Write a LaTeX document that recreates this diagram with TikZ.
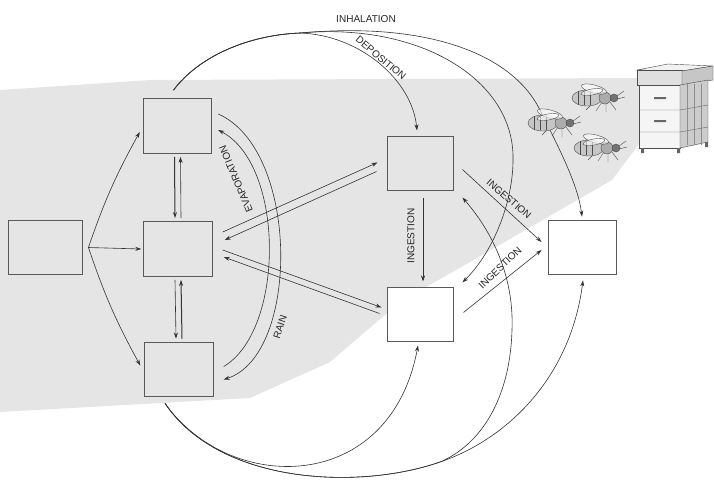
\documentclass[tikz,border=0pt]{standalone}
\usepackage{fontspec}
\setmainfont{Liberation Sans}
\usetikzlibrary{calc,arrows.meta}
\tikzset{
  box/.style={draw=black!65, line width=0.9pt, inner sep=0pt, minimum width=2.4cm, minimum height=1.92cm},
  arr/.style={draw=black!80, line width=0.6pt, -{Stealth[length=6pt,width=4pt]}},
  lbl/.style={font=\normalsize, text=black!85, inner sep=1pt},
}
\begin{document}
\begin{tikzpicture}[x=0.035cm, y=-0.035cm]
\newcommand{\honeybee}[2]{%
  \begin{scope}[shift={(#1,#2)}, black!70]
    \draw (6,4) -- (0,13) (10,5) -- (10,14) (14,4) -- (20,12) (-4,6) -- (-10,12);
    \draw[fill=gray!45] (-9,0) ellipse (15 and 8);
    \foreach \s in {-18,-12,-6} \draw (\s,-7) -- (\s,7);
    \draw[fill=gray!65] (9,0) circle (6);
    \draw[fill=black!55] (18,0) circle (4);
    \draw (21,-2) -- (28,-7) (21,1) -- (29,-1);
    \draw[fill=white, fill opacity=0.6, rotate around={-15:(-2,-9)}] (-2,-9) ellipse (13 and 4);
    \draw[fill=white, fill opacity=0.6, rotate around={10:(-4,-6)}] (-4,-6) ellipse (11 and 3);
  \end{scope}}
\useasboundingbox (0,0) rectangle (714,480);
\fill[gray!20] (0,90) -- (150,80) -- (640,78) -- (642,140) -- (612,180) -- (560,210) -- (470,262) -- (400,302) -- (330,362) -- (250,398) -- (0,412) -- cycle;

\node[box, minimum width=2.59cm] (src) at (45,247.5) {};
\node[box] (air) at (177.5,126) {};
\node[box] (soil) at (178,249) {};
\node[box] (water) at (179,369.5) {};
\node[box, minimum width=2.31cm, minimum height=1.86cm] (plant) at (420,163.5) {};
\node[box, fill=white, minimum width=2.31cm, minimum height=1.86cm] (pollen) at (420,314.5) {};
\node[box, fill=white, minimum width=2.38cm, minimum height=1.89cm] (bee) at (582,247) {};

\coordinate (fork) at ($(src.east)+(6,0)$);
\draw[arr] (fork) to[bend left=5] ($(air.west)+(-3,6)$);
\draw[arr] (fork) -- ($(soil.west)+(-2,0)$);
\draw[arr] (fork) to[bend right=5] ($(water.west)+(-4,-4)$);

\draw[arr, line width=1pt] ($(air.south)+(-3,3)$) -- ($(soil.north)+(-3,-3)$);
\draw[arr] ($(soil.north)+(3,-3)$) -- ($(air.south)+(3,3)$);
\draw[arr] ($(soil.south)+(-3,3)$) -- ($(water.north)+(-3,-3)$);
\draw[arr, line width=1pt] ($(water.north)+(3,-3)$) -- ($(soil.south)+(3,3)$);

\draw[arr] ($(air.east)+(6,-12)$) .. controls (300,150) and (300,355) .. ($(water.east)+(10,10)$);
\draw[arr] ($(water.east)+(10,-3)$) .. controls (285,330) and (285,165) .. ($(air.east)+(6,4)$);
\node[lbl, rotate=113] (evap) at (236,179) {EVAPORATION};
\node[lbl, rotate=72] (rain) at (280,327) {RAIN};

\draw[arr] ($(soil.east)+(10,-17)$) -- ($(plant.west)+(-9,-1)$);
\draw[arr] ($(plant.west)+(-10,8)$) -- ($(soil.east)+(12,-9)$);
\draw[arr] ($(soil.east)+(10,1)$) -- ($(pollen.west)+(-5,-7)$);
\draw[arr] ($(pollen.west)+(-7,-1)$) -- ($(soil.east)+(11,8)$);

\draw[arr] ($(plant.east)+(9,6)$) -- ($(bee.west)+(-6,-5)$);
\draw[arr] ($(pollen.east)+(10,-2)$) -- ($(bee.west)+(-6,3)$);
\draw[arr] ($(plant.south)+(3,7)$) -- ($(pollen.north)+(3,-6)$);
\node[lbl, rotate=-41] (ing1) at (509,199) {INGESTION};
\node[lbl, rotate=44] (ing2) at (500,268) {INGESTION};
\node[lbl, rotate=90] (ing3) at (411,236) {INGESTION};

\coordinate (top) at ($(air.north)+(-4,-8)$);
\coordinate (crest) at (300,33);
\draw[arr] (top) .. controls (200,55) and (250,35) .. (crest) .. controls (360,35) and (412,80) .. ($(plant.north)+(-3,-6)$);
\draw[arr] (top) .. controls (200,55) and (250,35) .. (crest) .. controls (420,22) and (510,50) .. (540,110) .. controls (560,150) and (578,185) .. ($(bee.north)+(0,-3)$);
\draw[arr] (top) .. controls (200,55) and (250,35) .. (crest) .. controls (420,22) and (515,80) .. (513,160) .. controls (513,200) and (495,250) .. ($(pollen.north east)+(9,-5)$);
\node[lbl] (inh) at (366,19) {INHALATION};
\node[lbl, rotate=-40] (dep) at (381,58) {DEPOSITION};

\coordinate (bottom) at ($(water.south)+(-14,6)$);
\draw[arr] (bottom) .. controls (230,495) and (390,495) .. ($(pollen.south)+(-2,4)$);
\draw[arr] (bottom) .. controls (220,485) and (360,490) .. (440,462) .. controls (480,445) and (510,400) .. (512,330) .. controls (514,280) and (495,235) .. ($(plant.south east)+(9,7)$);
\draw[arr] (bottom) .. controls (220,485) and (360,490) .. (440,462) .. controls (505,440) and (570,380) .. ($(bee.south)+(1,6)$);

\honeybee{552}{123}
\honeybee{596}{98}
\honeybee{598}{148}

\draw[black!70, fill=gray!10] (637,70) -- (668,64) -- (713,66) -- (682,71) -- cycle;
\draw[black!70, fill=gray!25] (637,70) rectangle (682,85);
\draw[black!70, fill=gray!45] (682,71) -- (713,66) -- (713,80) -- (682,85) -- cycle;
\draw[black!70, fill=gray!8] (639,85) rectangle (680,148);
\draw[black!70, fill=gray!40] (680,85) -- (708,80) -- (708,142) -- (680,148) -- cycle;
\draw[black!60] (639,110) -- (680,110) -- (708,105) (639,132) -- (680,132) -- (708,127);
\foreach \x in {687,694,701} \draw[black!45] (\x,84) -- (\x,145);
\fill[black!60] (654,97) rectangle (666,99) (654,120) rectangle (666,122);
\fill[black!60] (641,148) rectangle (644,153) (677,148) rectangle (680,153) (705,142) rectangle (708,147);
\end{tikzpicture}
\end{document}
